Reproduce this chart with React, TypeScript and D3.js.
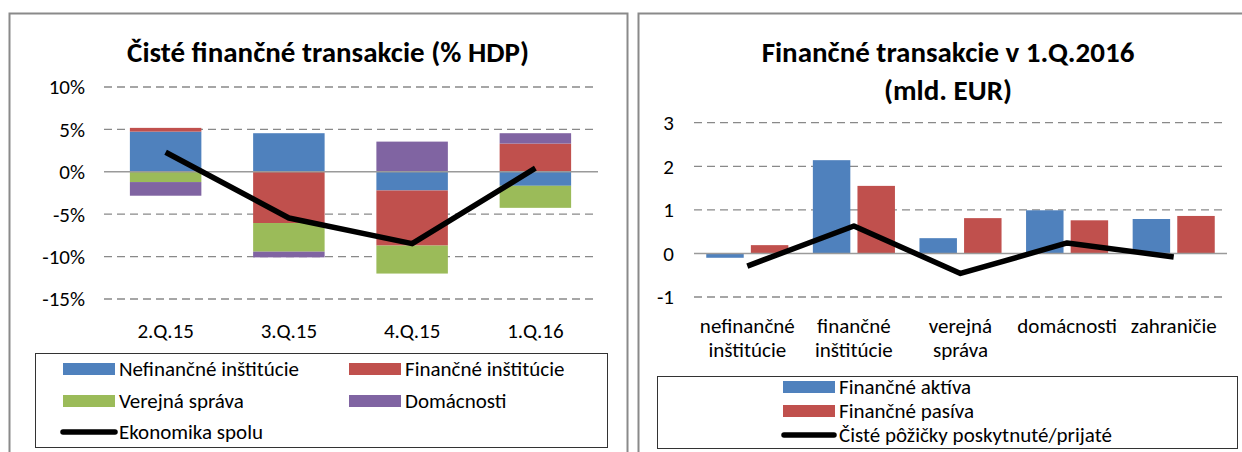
import React from "react";
import * as d3 from "d3";

// left chart: net financial transactions, % of GDP
const quarters = ["2.Q.15", "3.Q.15", "4.Q.15", "1.Q.16"];
const nefinancne = [4.74, 4.55, -2.2, -1.65];
const financne = [0.44, -6.04, -6.5, 3.33];
const verejna = [-1.21, -3.38, -3.3, -2.6];
const domacnosti = [-1.61, -0.67, 3.56, 1.22];
const ekonomika = [2.3, -5.45, -8.47, 0.43];
const leftTicks = [10, 5, 0, -5, -10, -15];

// right chart: transactions in 1.Q.2016, bn EUR
const sectors = ["nefinančné inštitúcie", "finančné inštitúcie", "verejná správa", "domácnosti", "zahraničie"];
const sectorLines = [["nefinančné", "inštitúcie"], ["finančné", "inštitúcie"], ["verejná", "správa"], ["domácnosti"], ["zahraničie"]];
const aktiva = [-0.1, 2.14, 0.35, 0.99, 0.79];
const pasiva = [0.19, 1.55, 0.81, 0.76, 0.86];
const ciste = [-0.29, 0.63, -0.46, 0.24, -0.08];
const rightTicks = [3, 2, 1, 0, -1];

const FONT = "Carlito, Calibri, Lato, 'Open Sans', sans-serif";
const FS = 21; // labels
const TS = 29; // titles
const BLUE = "#4F81BD";
const RED = "#C0504D";
const GREEN = "#9BBB59";
const PURPLE = "#8064A2";
const GRID = "#898989";

const leftKeys = ["nef", "fin", "ver", "dom"];
const leftColors: Record<string, string> = { nef: BLUE, fin: RED, ver: GREEN, dom: PURPLE };

function LeftChart() {
  const x = d3.scaleBand().domain(quarters).range([104, 597]).paddingInner(0.42).paddingOuter(0.21);
  const y = d3.scaleLinear().domain([-15, 10]).range([299, 87]);

  const rows = quarters.map((q, i) => ({
    q,
    nef: nefinancne[i],
    fin: financne[i],
    ver: verejna[i],
    dom: domacnosti[i],
  }));
  const series = d3.stack<any>().keys(leftKeys).offset(d3.stackOffsetDiverging)(rows);

  const line = d3
    .line<number>()
    .x((_, i) => (x(quarters[i]) as number) + x.bandwidth() / 2)
    .y((d) => y(d));

  return (
    <g>
      <rect x={9.5} y={13.5} width={618} height={460} fill="white" stroke="#8a8a8a" strokeWidth={2} />
      <text x={328} y={52} dy="0.35em" textAnchor="middle" fontSize={TS} fontWeight="bold">
        Čisté finančné transakcie (% HDP)
      </text>
      {leftTicks.map((t) => (
        <g key={t}>
          <text x={85} y={y(t)} dy="0.35em" textAnchor="end" fontSize={FS}>
            {t + "%"}
          </text>
          {t !== 0 && (
            <line x1={104} x2={597} y1={y(t)} y2={y(t)} stroke={GRID} strokeWidth={1.3} strokeDasharray="8,5" />
          )}
        </g>
      ))}
      {series.map((s) => (
        <g key={s.key} fill={leftColors[s.key]}>
          {s.map((d, i) => (
            <rect
              key={i}
              x={x(quarters[i])}
              width={x.bandwidth()}
              y={y(Math.max(d[0], d[1]))}
              height={Math.abs(y(d[0]) - y(d[1]))}
            />
          ))}
        </g>
      ))}
      <line x1={104} x2={598} y1={y(0)} y2={y(0)} stroke="#9a9a9a" strokeWidth={1.5} />
      <path d={line(ekonomika) || ""} fill="none" stroke="black" strokeWidth={5.5} strokeLinejoin="round" />
      {quarters.map((q) => (
        <text key={q} x={(x(q) as number) + x.bandwidth() / 2} y={331} dy="0.35em" textAnchor="middle" fontSize={FS}>
          {q}
        </text>
      ))}
      <rect x={35.5} y={353.5} width={572} height={94} fill="white" stroke="#333" strokeWidth={1} />
      {[
        { label: "Nefinančné inštitúcie", color: BLUE, sx: 63, cy: 369 },
        { label: "Finančné inštitúcie", color: RED, sx: 349, cy: 369 },
        { label: "Verejná správa", color: GREEN, sx: 63, cy: 401 },
        { label: "Domácnosti", color: PURPLE, sx: 349, cy: 401 },
      ].map((l) => (
        <g key={l.label}>
          <rect x={l.sx} y={l.cy - 6} width={52} height={12} fill={l.color} />
          <text x={l.sx + 56} y={l.cy} dy="0.35em" fontSize={FS}>
            {l.label}
          </text>
        </g>
      ))}
      <line x1={63} x2={115} y1={432} y2={432} stroke="black" strokeWidth={5.5} strokeLinecap="round" />
      <text x={119} y={432} dy="0.35em" fontSize={FS}>
        Ekonomika spolu
      </text>
    </g>
  );
}

function RightChart() {
  const x0 = d3.scaleBand().domain(sectors).range([694, 1227]).paddingInner(0.23).paddingOuter(0.115);
  const x1 = d3.scaleBand().domain(["a", "p"]).range([0, x0.bandwidth()]).paddingInner(0.16);
  const y = d3.scaleLinear().domain([-1, 3]).range([297, 122.7]);
  const cx = (i: number) => (x0(sectors[i]) as number) + x0.bandwidth() / 2;

  const line = d3
    .line<number>()
    .x((_, i) => cx(i))
    .y((d) => y(d));

  const bars = [
    { key: "a", values: aktiva, color: BLUE },
    { key: "p", values: pasiva, color: RED },
  ];

  return (
    <g>
      <rect x={638.5} y={13.5} width={620} height={460} fill="white" stroke="#8a8a8a" strokeWidth={2} />
      <text x={948} y={52} dy="0.35em" textAnchor="middle" fontSize={TS} fontWeight="bold">
        Finančné transakcie v 1.Q.2016
      </text>
      <text x={948} y={90} dy="0.35em" textAnchor="middle" fontSize={TS} fontWeight="bold">
        (mld. EUR)
      </text>
      {rightTicks.map((t) => (
        <g key={t}>
          <text x={674} y={y(t)} dy="0.35em" textAnchor="end" fontSize={FS}>
            {t}
          </text>
          {t !== 0 && (
            <line x1={694} x2={1227} y1={y(t)} y2={y(t)} stroke={GRID} strokeWidth={1.3} strokeDasharray="8,5" />
          )}
        </g>
      ))}
      {bars.map((b) =>
        b.values.map((v, i) => (
          <rect
            key={b.key + i}
            x={(x0(sectors[i]) as number) + (x1(b.key) as number)}
            width={x1.bandwidth()}
            y={y(Math.max(0, v))}
            height={Math.abs(y(v) - y(0))}
            fill={b.color}
          />
        ))
      )}
      <line x1={694} x2={1227} y1={y(0)} y2={y(0)} stroke="#9a9a9a" strokeWidth={1.5} />
      <path d={line(ciste) || ""} fill="none" stroke="black" strokeWidth={5.5} strokeLinejoin="round" />
      {sectorLines.map((lines, i) => (
        <text key={i} x={cx(i)} y={326} textAnchor="middle" fontSize={FS}>
          {lines.map((s, j) => (
            <tspan key={j} x={cx(i)} dy={j === 0 ? "0.35em" : 24}>
              {s}
            </tspan>
          ))}
        </text>
      ))}
      <rect x={657.5} y={376.5} width={580} height={72} fill="white" stroke="#333" strokeWidth={1} />
      {[
        { label: "Finančné aktíva", color: BLUE, cy: 387 },
        { label: "Finančné pasíva", color: RED, cy: 411 },
      ].map((l) => (
        <g key={l.label}>
          <rect x={783} y={l.cy - 6} width={52} height={12} fill={l.color} />
          <text x={839} y={l.cy} dy="0.35em" fontSize={FS}>
            {l.label}
          </text>
        </g>
      ))}
      <line x1={784} x2={834} y1={435} y2={435} stroke="black" strokeWidth={5.5} strokeLinecap="round" />
      <text x={839} y={435} dy="0.35em" fontSize={FS}>
        Čisté pôžičky poskytnuté/prijaté
      </text>
    </g>
  );
}

export default function App() {
  return (
    <div style={{ position: "absolute", left: 0, top: 0 }}>
      <svg width={1242} height={452} style={{ display: "block", fontFamily: FONT }}>
        <rect width={1242} height={452} fill="white" />
        <LeftChart />
        <RightChart />
      </svg>
    </div>
  );
}
